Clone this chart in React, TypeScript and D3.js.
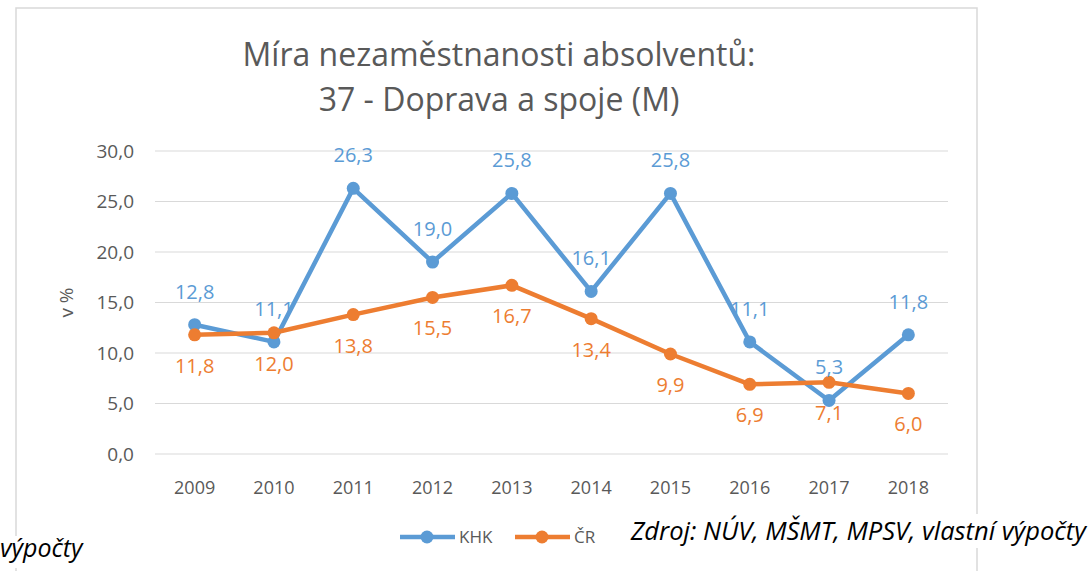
import React from 'react'
import * as d3 from 'd3'

const years = ['2009', '2010', '2011', '2012', '2013', '2014', '2015', '2016', '2017', '2018']
const khk = [12.8, 11.1, 26.3, 19.0, 25.8, 16.1, 25.8, 11.1, 5.3, 11.8]
const cr = [11.8, 12.0, 13.8, 15.5, 16.7, 13.4, 9.9, 6.9, 7.1, 6.0]
const yTicks = [0, 5, 10, 15, 20, 25, 30]

const FONT = '"Open Sans", "Noto Sans", sans-serif'
const GRAY = '#595959'
const BLUE = '#5B9BD5'
const ORANGE = '#ED7D31'

const fmt = (v: number) => v.toFixed(1).replace('.', ',')

export default function App() {
  const width = 1091
  const height = 571
  const margin = { top: 151, right: 143, bottom: 117, left: 155 }

  const x = d3
    .scalePoint()
    .domain(years)
    .range([margin.left, width - margin.right])
    .padding(0.5)

  const y = d3
    .scaleLinear()
    .domain([0, 30])
    .range([height - margin.bottom, margin.top])

  const line = d3
    .line<number>()
    .x((d, i) => x(years[i]) as number)
    .y(d => y(d))

  const series = [
    { name: 'KHK', values: khk, color: BLUE, dy: -26 },
    { name: 'ČR', values: cr, color: ORANGE, dy: 38 }
  ]

  return (
    <svg
      width={width}
      height={height}
      style={{ position: 'absolute', left: 0, top: 0, background: '#fff' }}
      fontFamily={FONT}
    >
      <rect x={16} y={8} width={961} height={600} fill="#fff" stroke="#d9d9d9" strokeWidth={1.5} />

      <text x={499} y={66} textAnchor="middle" fontSize={32} fill={GRAY}>
        Míra nezaměstnanosti absolventů:
      </text>
      <text x={499} y={111} textAnchor="middle" fontSize={32} fill={GRAY}>
        37 - Doprava a spoje (M)
      </text>

      {yTicks.map(t => (
        <g key={t}>
          <line x1={margin.left} x2={width - margin.right} y1={y(t)} y2={y(t)} stroke="#d9d9d9" strokeWidth={1.2} />
          <text x={134} y={y(t)} dy="0.35em" textAnchor="end" fontSize={19} fill={GRAY}>
            {fmt(t)}
          </text>
        </g>
      ))}

      <text
        transform={`translate(66,${y(15)}) rotate(-90)`}
        textAnchor="middle"
        dy="0.35em"
        fontSize={19}
        fill={GRAY}
      >
        v %
      </text>

      {years.map(yr => (
        <text key={yr} x={x(yr)} y={494} textAnchor="middle" fontSize={18} fill={GRAY}>
          {yr}
        </text>
      ))}

      {series.map(s => (
        <g key={s.name}>
          <path d={line(s.values) as string} fill="none" stroke={s.color} strokeWidth={4.5} strokeLinejoin="round" />
          {s.values.map((v, i) => (
            <circle key={i} cx={x(years[i])} cy={y(v)} r={6.5} fill={s.color} />
          ))}
        </g>
      ))}

      {series.map(s =>
        s.values.map((v, i) => (
          <text
            key={s.name + i}
            x={x(years[i])}
            y={y(v) + s.dy}
            textAnchor="middle"
            fontSize={20}
            fill={s.color}
          >
            {fmt(v)}
          </text>
        ))
      )}

      <g fontSize={17} fill={GRAY}>
        <line x1={400} x2={455} y1={537} y2={537} stroke={BLUE} strokeWidth={4.5} />
        <circle cx={427} cy={537} r={6.5} fill={BLUE} />
        <text x={459} y={537} dy="0.35em">KHK</text>
        <line x1={515} x2={570} y1={537} y2={537} stroke={ORANGE} strokeWidth={4.5} />
        <circle cx={542} cy={537} r={6.5} fill={ORANGE} />
        <text x={574} y={537} dy="0.35em">ČR</text>
      </g>

      <rect x={630} y={514} width={461} height={34} fill="#fff" />
      <text x={1086} y={540} textAnchor="end" fontSize={25.5} fontStyle="italic" fill="#000">
        Zdroj: NÚV, MŠMT, MPSV, vlastní výpočty
      </text>
      <rect x={0} y={536} width={82} height={32} fill="#fff" />
      <text x={0} y={557} fontSize={25} fontStyle="italic" fill="#000">
        výpočty
      </text>
    </svg>
  )
}
